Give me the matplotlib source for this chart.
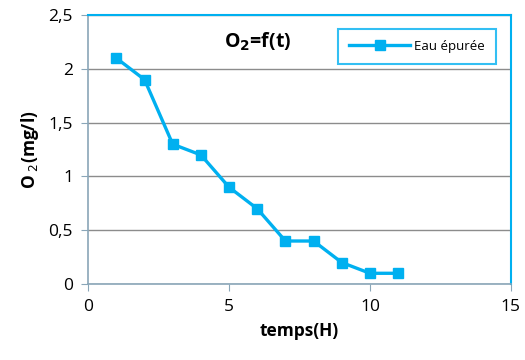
"""
O2 = f(t) curve for treated water (eau épurée).
"""

import matplotlib.pyplot as plt
from matplotlib.ticker import FuncFormatter

# ── Data ───────────────────────────────────────────────────────────────────
temps_h = [1, 2, 3, 4, 5, 6, 7, 8, 9, 10, 11]
o2_mg_l = [2.1, 1.9, 1.3, 1.2, 0.9, 0.7, 0.4, 0.4, 0.2, 0.1, 0.1]

x_ticks = [0, 5, 10, 15]
y_ticks = [0, 0.5, 1, 1.5, 2, 2.5]

CYAN = "#00B0F0"
AXIS = "#8aa6b8"

plt.rcParams["font.family"] = ["Open Sans", "DejaVu Sans"]

fig = plt.figure(figsize=(5.25, 3.6), dpi=100)
ax = fig.add_axes([0.168, 0.211, 0.805, 0.747])

ax.plot(temps_h, o2_mg_l, color=CYAN, lw=2.4, marker="s", ms=7,
        label="Eau épurée", zorder=3)

ax.set_xlim(0, 15)
ax.set_ylim(0, 2.5)
ax.set_xticks(x_ticks)
ax.set_yticks(y_ticks)
ax.yaxis.set_major_formatter(FuncFormatter(lambda v, p: f"{v:g}".replace(".", ",")))
ax.tick_params(labelsize=12.5, length=5, color=AXIS, direction="out", pad=6)

# Grid and frame
ax.grid(axis="y", color="#8c8c8c", lw=1)
ax.set_axisbelow(True)
for side in ("top", "right"):
    ax.spines[side].set_color(CYAN)
    ax.spines[side].set_linewidth(1.5)
for side in ("left", "bottom"):
    ax.spines[side].set_color(AXIS)
    ax.spines[side].set_linewidth(1.2)

ax.set_xlabel("temps(H)", fontsize=12.5, fontweight="bold", labelpad=5)
ax.set_ylabel(r"O$_{\ 2}$(mg/l)", fontsize=12.5, fontweight="bold", labelpad=5)

ax.text(0.4, 0.9, r"O$_\mathbf{2}$=f(t)", transform=ax.transAxes,
        ha="center", va="center", fontsize=14, fontweight="bold")

leg = ax.legend(loc="upper right", bbox_to_anchor=(0.965, 0.95), fontsize=9.5,
                frameon=True, fancybox=False, handlelength=4.6,
                handletextpad=0.3, borderpad=0.85, borderaxespad=0)
leg.get_frame().set_edgecolor(CYAN)
leg.get_frame().set_linewidth(1.5)

fig.savefig("out.png", dpi=100)
